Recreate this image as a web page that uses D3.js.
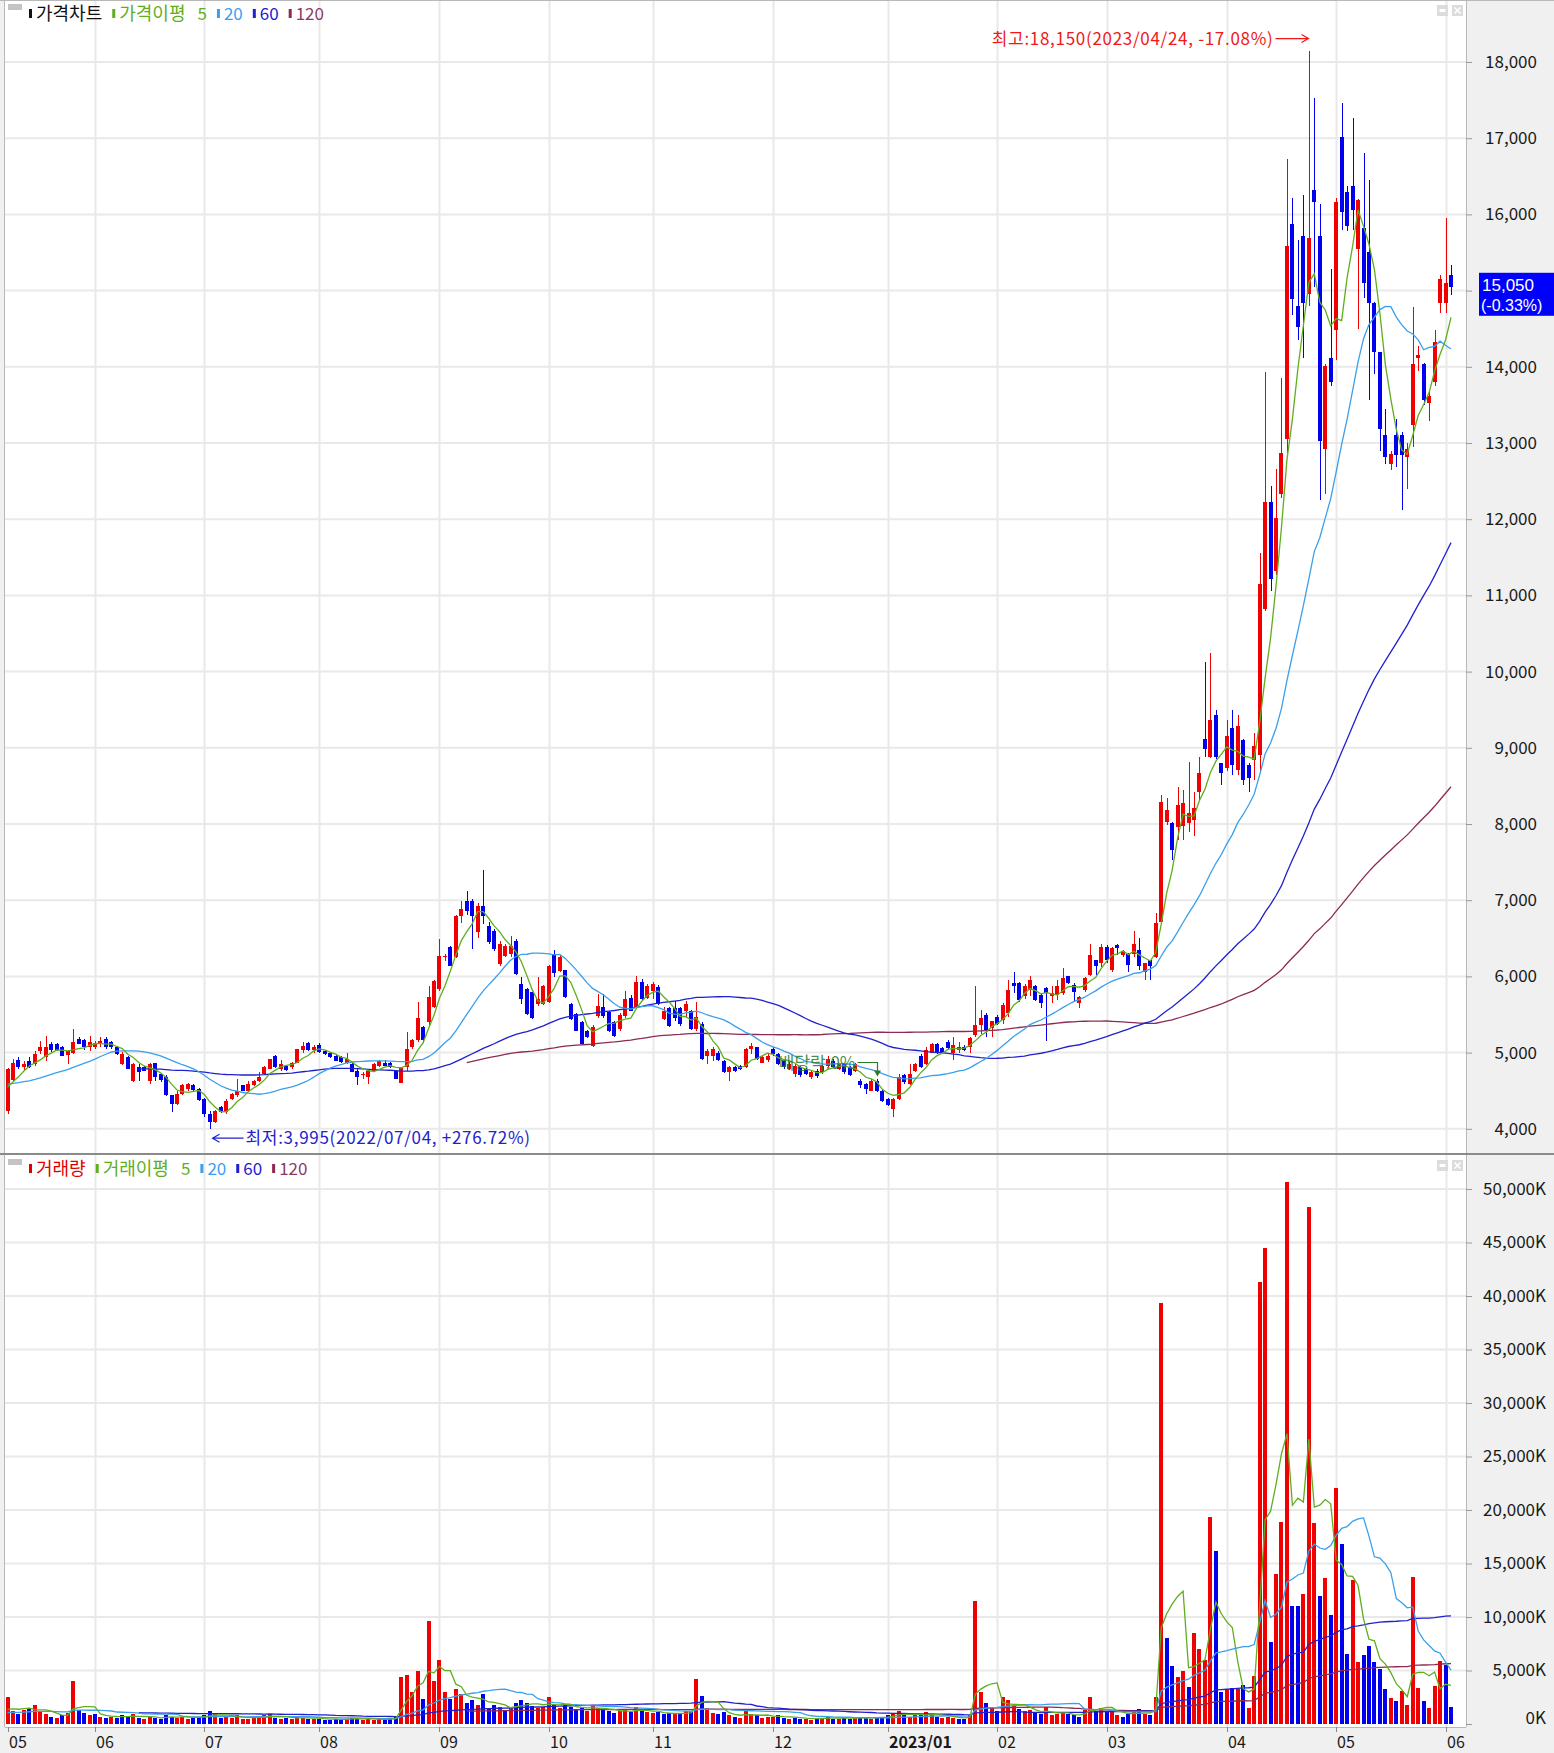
<!DOCTYPE html>
<html><head><meta charset="utf-8">
<script src="https://cdn.jsdelivr.net/npm/d3@7/dist/d3.min.js"></script>
<style>
html,body{margin:0;padding:0;background:#fff;}
svg{display:block;}
</style></head><body>
<svg id="chart" width="1554" height="1753"></svg>
<script>
// ---------------- DATA ----------------
const startDate = "2022-05-10";
const endDate = "2023-06-02";
const holidays = ["2022-06-01","2022-06-06","2022-08-15","2022-09-09","2022-09-12","2022-10-03","2022-10-10",
  "2022-12-30","2023-01-23","2023-01-24","2023-03-01","2023-05-01","2023-05-05","2023-05-29"];

// closes / volumes of the sessions before the visible window (used only for moving averages)
const prevCloses = [4800,4850,4780,4720,4760,4700,4650,4700,4750,4820,4760,4700,4680,4720,4650,4700,
  4620,4650,4600,4580,4620,4650,4600,4560,4600,4580,4620,4550,4580,4560,4600,4520,4480,4470,4480];
const prevVolumes = [1500,1200,1000,900,1300,1100,800,900,1000,1200,1400,900,800,700,900,1000,1100,800,
  700,900,1000,1200,900,800,1000,1300,1100,900,800,1000,1200,900,1100,1000,1300];

const openP = [
  4240,4635,4900,4810,4895,4850,5025,4940,5110,5110,5070,4975,5000,5180,5165,5070,
  5080,5110,5180,5135,5070,4850,4940,4630,4810,4810,4630,4860,4720,4680,4440,4330,4460,4520,4570,4520,
  4390,4195,4090,4280,4220,4390,4440,4570,4500,4570,4630,4720,4790,4960,4790,4820,4810,4870,5030,5120,5030,
  5105,5025,5000,4960,4940,4870,4850,4765,4700,4680,4765,4830,4870,4870,4765,4600,4810,5070,5160,5330,5400,5600,
  5830,6250,6380,6250,6790,6990,6990,6580,6930,6660,6600,6160,6270,6290,6470,5900,5830,5790,5640,5640,
  5660,6290,6070,6080,5640,5510,5400,5290,5090,5480,5600,5530,5400,5310,5480,5720,5590,5920,5720,
  5810,5860,5440,5590,5590,5590,5550,5550,5310,5380,4960,4960,5000,4890,4740,4810,4830,4810,5050,5070,4870,4900,
  5050,4980,4890,4790,4720,4810,4790,4680,4760,4740,4830,4890,4790,4850,4810,4760,4630,4590,4500,4630,4500,
  4390,4260,4390,4700,4590,4760,4960,4850,5000,5110,5060,5140,4990,5030,5080,5080,5230,5360,5490,5320,
  5470,5430,5520,5910,5910,5740,5820,5870,5760,5850,5740,5760,5780,6000,5890,5650,5820,6020,6220,6170,
  6390,6080,6410,6280,6300,6300,6350,6060,6210,6260,6720,8030,8010,7960,7970,8010,8050,8420,9120,8880,9430,8800,
  8730,9260,8710,9100,8780,8840,8900,10820,12220,11320,12330,13050,15870,14800,15720,14950,16320,15720,12920,14110,
  14480,17020,16300,16370,15540,15820,15510,14840,14190,13100,12720,13100,13100,12820,13230,14110,14040,13520,13800,14840,
  14840,15200];
const highP = [
  4800,4920,4940,4895,4940,5025,5155,5220,5140,5130,5090,5030,5310,5200,5180,5220,
  5150,5200,5200,5150,5090,5010,4960,4860,4850,4830,4870,4870,4730,4700,4450,4500,4590,4600,4590,4530,
  4400,4240,4250,4300,4390,4470,4660,4580,4630,4640,4740,4830,4920,4970,4900,4840,4880,5050,5140,5140,5100,
  5120,5040,5010,4975,4950,5000,4860,4780,4740,4780,4870,4900,4900,4880,4770,4810,5270,5180,5660,5350,5880,5950,
  6490,6300,6400,6800,6990,7120,7010,6960,7390,6710,6620,6470,6420,6530,6490,5990,5850,5800,5990,5890,
  6150,6340,6280,6090,5650,5520,5410,5300,5360,5770,5770,5540,5410,5520,5810,5750,6010,5970,5900,
  5920,5890,5600,5600,5680,5600,5680,5560,5660,5400,5050,5070,5020,4900,4830,4830,4840,5060,5130,5080,4960,4980,
  5070,5000,4900,4880,4850,4830,4800,4760,4780,4850,4950,4920,4860,4860,4830,4870,4650,4600,4650,4660,4510,
  4400,4400,4720,4720,4850,4870,4980,5070,5130,5130,5080,5160,5210,5140,5100,5200,5870,5560,5520,5420,
  5500,5650,5950,6060,5930,5900,6000,5890,5780,5860,5870,5950,6110,6010,5910,5740,5990,6430,6220,6430,
  6410,6390,6430,6340,6310,6590,6500,6180,6220,6830,8380,8340,8030,8490,8450,8820,8420,8880,10130,10240,9500,8800,
  9370,9500,9430,9120,8800,9190,11550,13930,12430,12660,13850,16730,16210,15670,16260,18150,17530,16130,14040,15280,
  16210,17460,16370,17270,16200,16800,16450,14850,14200,13440,12900,13310,13150,13000,14790,14270,14050,13700,14480,15200,
  15950,15330];
const lowP = [
  4190,4630,4790,4765,4800,4830,4980,4895,5010,5020,4950,4850,4980,5110,5030,5025,
  5050,5070,5050,5050,4970,4840,4780,4620,4630,4760,4590,4630,4620,4430,4220,4310,4440,4500,4500,4370,
  4150,3995,4070,4210,4200,4380,4420,4500,4480,4560,4610,4700,4780,4800,4760,4760,4790,4860,5000,5020,5000,
  5000,4970,4930,4890,4870,4850,4740,4570,4650,4590,4750,4810,4830,4800,4650,4600,4765,5050,5135,5130,5350,5580,
  5810,6200,6140,6240,6700,6800,6360,6500,6690,6420,6330,6140,6250,6250,6020,5640,5500,5440,5610,5620,
  5650,5990,6060,5720,5430,5280,5100,5190,5070,5460,5460,5270,5210,5290,5460,5540,5570,5690,5700,
  5700,5630,5430,5340,5420,5350,5460,5300,5290,4900,4850,4890,4890,4730,4630,4750,4770,4800,4980,4900,4860,4880,
  4960,4840,4780,4770,4680,4680,4700,4660,4670,4720,4810,4800,4770,4720,4690,4740,4540,4460,4490,4480,4350,
  4300,4150,4380,4590,4580,4740,4800,4840,4990,4980,5000,5050,4900,4990,5020,4990,5210,5250,5210,5210,
  5360,5380,5470,5780,5670,5700,5740,5680,5580,5150,5650,5690,5760,5900,5670,5580,5800,6000,6020,6120,
  6170,6060,6280,6260,6060,6260,6080,5950,5950,6240,6700,7990,7530,7790,7790,7900,7840,8320,8880,8860,8850,8510,
  8700,8640,8640,8510,8420,8580,8670,10800,11060,11270,12280,12870,14680,14350,14110,14800,15050,12250,12330,13750,
  14090,15800,15780,15800,14500,14900,13570,13900,12900,12720,12640,12690,12120,12400,12950,13950,13500,13290,13750,14710,
  14700,14940];
const closeP = [
  4780,4870,4810,4850,4815,4980,5070,5070,5030,5030,4960,5020,5135,5110,5080,5135,
  5120,5155,5070,5070,4985,4980,4790,4850,4740,4765,4850,4680,4635,4440,4330,4460,4570,4590,4510,4380,
  4200,4090,4240,4220,4370,4460,4500,4500,4590,4630,4680,4810,4920,4810,4850,4770,4870,5050,5090,5030,5070,
  5005,4985,4940,4895,4880,4915,4745,4680,4720,4765,4850,4885,4830,4810,4660,4810,5050,5160,5460,5160,5730,5940,
  6270,6270,6140,6790,6880,6860,6795,6920,6790,6450,6360,6420,6400,6400,6030,5700,5510,5460,5700,5880,
  6140,6050,6250,5730,5440,5290,5110,5200,5330,5610,5480,5290,5220,5500,5700,5550,5920,5700,5880,
  5900,5640,5550,5350,5460,5370,5640,5310,5470,4920,5020,5050,4900,4740,4810,4760,4790,5050,5090,4920,4940,4960,
  4980,4850,4810,4850,4830,4700,4720,4740,4690,4830,4920,4810,4850,4740,4700,4850,4570,4520,4630,4500,4370,
  4310,4390,4680,4610,4720,4850,4810,5030,5110,5000,5010,5060,5100,5080,5040,5190,5360,5450,5300,5410,
  5380,5630,5820,5870,5690,5870,5950,5690,5650,5780,5780,5870,5980,5910,5800,5730,5980,6280,6130,6390,
  6210,6370,6370,6330,6150,6430,6130,6170,6130,6700,8290,8180,7660,8250,8270,8140,8210,8670,8990,9370,8880,8670,
  9150,8780,9280,8580,8600,9020,11150,12220,11210,12020,12870,15590,14890,14520,14840,15690,16160,13030,14010,13800,
  16160,16030,15850,16060,16190,15100,14840,14190,13180,12820,12850,12840,12840,12920,14040,14160,13570,13620,14320,15150,
  15100,15050];
// volume, thousands of shares
const volumes = [
  2500,1200,900,1300,1500,1800,1100,900,700,600,800,1000,4000,1300,1000,800,
  900,700,600,700,600,800,700,900,600,500,700,600,500,800,700,600,700,500,600,700,
  800,1200,900,600,700,600,800,500,500,600,700,800,900,600,500,600,500,700,600,500,500,
  500,400,400,500,400,500,600,500,400,500,400,500,400,500,700,4400,4600,3000,5000,2300,9600,4000,
  6000,3000,2300,3300,2800,2000,2200,1800,2800,1500,1800,1600,1200,1500,2000,2200,2000,1700,1500,1600,
  2500,1800,1500,1800,1600,1400,1500,1200,1800,1500,1300,1200,1000,1200,1400,1100,1600,1200,1100,
  1000,1100,900,1000,900,1000,1200,1100,4200,2600,1500,1000,900,1100,800,700,600,1200,900,800,600,700,
  700,800,600,500,600,500,500,400,500,600,700,500,500,600,500,600,700,600,500,600,700,
  800,1000,1200,800,700,900,800,1100,900,700,600,700,600,500,500,800,11500,3000,2000,1500,
  1200,2500,2200,1800,1400,1200,1300,1000,900,1600,800,900,1000,900,800,700,1300,2500,1200,1500,
  1200,1300,800,700,900,1200,1400,900,800,2500,39300,8000,5400,4400,5000,3500,8500,7000,6000,19300,16200,3000,
  3200,3400,3300,3600,1500,4500,41350,44450,7660,13980,18870,50650,11020,11020,12150,48360,18800,11950,13600,10160,
  22080,16780,6570,13430,5840,6460,7300,5840,5110,3290,2450,2150,3100,1750,13760,3390,2150,1460,3540,5910,
  5510,1610];

const priceTicks = [4000,5000,6000,7000,8000,9000,10000,11000,12000,13000,14000,15000,16000,17000,18000];
const volumeTicks = [0,5000,10000,15000,20000,25000,30000,35000,40000,45000,50000];
const maPeriods = [5,20,60,120];
const dividendEvents = [{date:"2022-12-28", label:"배당락:0%"}];

// ---------------- SETUP ----------------
const FONT = '"Noto Sans CJK KR","Noto Sans",sans-serif';
const W = 1554, H = 1753;
const plotL = 5, plotR = 1466;
const pTop = 1, pBot = 1153, vTop = 1155, vBot = 1727;
const C_UP = "#f00000", C_DN = "#0000ee";
const maColors = {5:"#5fae1e", 20:"#3a9fec", 60:"#2020d0", 120:"#8b2a55"};

function tradingDays(s, e, hol) {
  const hs = new Set(hol), out = [];
  const d = new Date(s + "T00:00:00Z"), end = new Date(e + "T00:00:00Z");
  while (d <= end) {
    const wd = d.getUTCDay(), str = d.toISOString().slice(0,10);
    if (wd !== 0 && wd !== 6 && !hs.has(str)) out.push(str);
    d.setUTCDate(d.getUTCDate() + 1);
  }
  return out;
}
const allDates = tradingDays(startDate, endDate, holidays);
const n = Math.min(allDates.length, openP.length, highP.length, lowP.length, closeP.length, volumes.length);
const dates = allDates.slice(0, n);
const bars = d3.range(n).map(i => ({i, date: dates[i], o: openP[i], h: highP[i], l: lowP[i], c: closeP[i], v: volumes[i]}));

const fullC = prevCloses.concat(closeP.slice(0, n));
const fullV = prevVolumes.concat(volumes.slice(0, n));
const off = prevCloses.length;
function movingAvg(arr, p) {
  return d3.range(n).map(i => {
    const e = i + off; if (e - p + 1 < 0) return null;
    return d3.mean(arr.slice(e - p + 1, e + 1));
  });
}

const x = d3.scalePoint().domain(dates).range([7.5, 1451]);
const yP = d3.scaleLinear().domain([4000, 18000]).range([1128.8, 62]);
const yV = d3.scaleLinear().domain([0, 50000]).range([1724, 1189]);

const svg = d3.select("#chart").attr("font-family", FONT);
svg.append("rect").attr("width", W).attr("height", H).attr("fill", "#f0f0f0");
svg.append("rect").attr("x", plotL).attr("y", pTop).attr("width", plotR - plotL).attr("height", pBot - pTop).attr("fill", "#fff");
svg.append("rect").attr("x", plotL).attr("y", vTop).attr("width", plotR - plotL).attr("height", vBot - vTop).attr("fill", "#fff");

const defs = svg.append("defs");
defs.append("clipPath").attr("id", "clipP").append("rect").attr("x", plotL).attr("y", pTop).attr("width", plotR - plotL).attr("height", pBot - pTop);
defs.append("clipPath").attr("id", "clipV").append("rect").attr("x", plotL).attr("y", vTop).attr("width", plotR - plotL).attr("height", vBot - vTop);

// month boundaries
const monthStarts = bars.filter(b => b.i > 0 && b.date.slice(0,7) !== dates[b.i-1].slice(0,7));
const grid = svg.append("g").attr("stroke", "#e9e9e9").attr("stroke-width", 2);
priceTicks.forEach(t => grid.append("line").attr("x1", plotL).attr("x2", plotR).attr("y1", yP(t)).attr("y2", yP(t)));
volumeTicks.filter(t => t > 0).forEach(t => grid.append("line").attr("x1", plotL).attr("x2", plotR).attr("y1", yV(t)).attr("y2", yV(t)));
monthStarts.forEach(b => {
  const xx = Math.round(x(b.date)) + 0.5;
  grid.append("line").attr("x1", xx).attr("x2", xx).attr("y1", pTop).attr("y2", pBot);
  grid.append("line").attr("x1", xx).attr("x2", xx).attr("y1", vTop).attr("y2", vBot);
});

// frame lines
const frame = svg.append("g").attr("stroke", "#b8b8b8").attr("stroke-width", 1).attr("shape-rendering", "crispEdges");
frame.append("line").attr("x1", plotR + 0.5).attr("x2", plotR + 0.5).attr("y1", 0).attr("y2", vBot);
frame.append("line").attr("x1", plotL - 0.5).attr("x2", plotL - 0.5).attr("y1", 0).attr("y2", vBot);
frame.append("line").attr("x1", 0).attr("x2", W).attr("y1", 0.5).attr("y2", 0.5);
frame.append("line").attr("x1", plotL).attr("x2", plotR).attr("y1", vBot + 0.5).attr("y2", vBot + 0.5);
svg.append("rect").attr("x", 0).attr("y", pBot).attr("width", W).attr("height", 2).attr("fill", "#8a8a8a");

// candles
const gC = svg.append("g").attr("clip-path", "url(#clipP)").attr("shape-rendering", "crispEdges");
bars.forEach(b => {
  const col = b.c >= b.o ? C_UP : C_DN;
  const xc = Math.round(x(b.date));
  gC.append("rect").attr("x", xc).attr("width", 1)
    .attr("y", yP(Math.max(b.h, b.o, b.c))).attr("height", Math.max(1, yP(Math.min(b.l, b.o, b.c)) - yP(Math.max(b.h, b.o, b.c))))
    .attr("fill", col);
  const top = yP(Math.max(b.o, b.c)), bot = yP(Math.min(b.o, b.c));
  gC.append("rect").attr("x", xc - 2).attr("width", 4).attr("y", top).attr("height", Math.max(1.2, bot - top)).attr("fill", col);
});

// price MAs
const gM = svg.append("g").attr("clip-path", "url(#clipP)");
maPeriods.slice().reverse().forEach(p => {
  const ma = movingAvg(fullC, p);
  const line = d3.line().defined(i => ma[i] != null).x(i => x(dates[i])).y(i => yP(ma[i]));
  gM.append("path").attr("d", line(d3.range(n))).attr("fill", "none").attr("stroke", maColors[p]).attr("stroke-width", 1.3);
});

// dividend annotation
const ann = svg.append("g");
dividendEvents.forEach(ev => {
  const b = bars.find(d => d.date === ev.date); if (!b) return;
  const xd = Math.round(x(b.date)) + 0.5, yh = yP(b.h), yb = yh - 16;
  ann.append("text").attr("x", xd - 22).attr("y", yb + 1).attr("dy", "0.35em").attr("text-anchor", "end")
    .attr("font-size", 17).attr("fill", "#2a7a2a").attr("fill-opacity", 0.85).text(ev.label);
  ann.append("path").attr("d", `M${xd-20},${yb}H${xd}V${yh-7}`).attr("fill", "none").attr("stroke", "#2a7a2a").attr("stroke-width", 1.2);
  ann.append("path").attr("d", `M${xd-3.5},${yh-8}L${xd+3.5},${yh-8}L${xd},${yh-2}Z`).attr("fill", "#2a7a2a");
});

// volume bars
const gVb = svg.append("g").attr("clip-path", "url(#clipV)").attr("shape-rendering", "crispEdges");
bars.forEach(b => {
  const prev = fullC[b.i + off - 1];
  const col = b.c >= prev ? C_UP : C_DN;
  const xc = Math.round(x(b.date));
  gVb.append("rect").attr("x", xc - 2).attr("width", 4).attr("y", yV(b.v)).attr("height", yV(0) - yV(b.v)).attr("fill", col);
});
const gVm = svg.append("g").attr("clip-path", "url(#clipV)");
maPeriods.slice().reverse().forEach(p => {
  const ma = movingAvg(fullV, p);
  const line = d3.line().defined(i => ma[i] != null).x(i => x(dates[i])).y(i => yV(ma[i]));
  gVm.append("path").attr("d", line(d3.range(n))).attr("fill", "none").attr("stroke", maColors[p]).attr("stroke-width", 1.3);
});

// high / low annotations
const last = bars[n-1], prevLast = bars[n-2];
const hiBar = bars.reduce((a, b) => b.h > a.h ? b : a), loBar = bars.reduce((a, b) => b.l < a.l ? b : a);
const fmt = d3.format(",");
const pct = v => { const p = (last.c - v) / v * 100; return (p >= 0 ? "+" : "") + p.toFixed(2) + "%"; };
{
  const xh = Math.round(x(hiBar.date)) + 0.5, ya = yP(hiBar.h) - 12;
  ann.append("text").attr("x", xh - 36).attr("y", ya).attr("dy", "0.35em").attr("text-anchor", "end")
    .attr("font-size", 17).attr("letter-spacing", 0.7).attr("fill", "#f01818")
    .text(`최고:${fmt(hiBar.h)}(${hiBar.date.replace(/-/g, "/")}, ${pct(hiBar.h)})`);
  ann.append("path").attr("d", `M${xh-34},${ya}H${xh-1}M${xh-8},${ya-4}L${xh-1},${ya}L${xh-8},${ya+4}`)
    .attr("fill", "none").attr("stroke", "#f01818").attr("stroke-width", 1.2);
  const xl = Math.round(x(loBar.date)) + 0.5, yb = yP(loBar.l) + 9;
  ann.append("text").attr("x", xl + 35).attr("y", yb).attr("dy", "0.35em").attr("text-anchor", "start")
    .attr("font-size", 17).attr("letter-spacing", 0.7).attr("fill", "#2222cc")
    .text(`최저:${fmt(loBar.l)}(${loBar.date.replace(/-/g, "/")}, ${pct(loBar.l)})`);
  ann.append("path").attr("d", `M${xl+33},${yb}H${xl+2}M${xl+9},${yb-4}L${xl+2},${yb}L${xl+9},${yb+4}`)
    .attr("fill", "none").attr("stroke", "#2222cc").attr("stroke-width", 1.2);
}

// axes
const yc = yP(last.c), boxTop = yc - 14, boxBot = yc + 29;
const axP = svg.append("g").attr("transform", `translate(${plotR},0)`)
  .call(d3.axisRight(yP).tickValues(priceTicks).tickSize(6).tickFormat(fmt));
axP.select(".domain").remove();
axP.attr("font-family", FONT).attr("font-size", 17);
axP.selectAll("line").attr("stroke", "#9a9a9a");
axP.selectAll("text").attr("x", 71).attr("text-anchor", "end").attr("fill", "#1a1a1a");
// labels hidden behind the current-price box
axP.selectAll(".tick").filter(t => yP(t) > boxTop - 8 && yP(t) < boxBot + 8).select("text").remove();

const axV = svg.append("g").attr("transform", `translate(${plotR},0)`)
  .call(d3.axisRight(yV).tickValues(volumeTicks).tickSize(6).tickFormat(v => fmt(v) + "K"));
axV.select(".domain").remove();
axV.attr("font-family", FONT).attr("font-size", 17);
axV.selectAll("line").attr("stroke", "#9a9a9a");
axV.selectAll("text").attr("x", 80).attr("text-anchor", "end").attr("fill", "#1a1a1a")
  .attr("y", v => v === 0 ? -6 : 0);

// current price box
{
  const chg = (last.c - prevLast.c) / prevLast.c * 100;
  svg.append("rect").attr("x", 1479).attr("y", boxTop).attr("width", 75).attr("height", boxBot - boxTop).attr("fill", "#0000ff");
  const bf = '"Liberation Sans","DejaVu Sans",sans-serif';
  svg.append("text").attr("x", 1482).attr("y", yc - 2).attr("dy", "0.35em").attr("font-family", bf).attr("font-size", 17).attr("fill", "#fff").text(fmt(last.c));
  svg.append("text").attr("x", 1481).attr("y", yc + 19).attr("dy", "0.35em").attr("font-family", bf).attr("font-size", 16).attr("fill", "#fff")
    .text(`(${chg.toFixed(2)}%)`);
}

// x axis labels
const xlab = svg.append("g").attr("font-size", 16).attr("fill", "#1a1a1a");
const labelBars = [bars[0]].concat(monthStarts);
labelBars.forEach(b => {
  const m = b.date.slice(5,7), isJan = m === "01";
  const xx = Math.round(x(b.date));
  xlab.append("line").attr("x1", xx + 0.5).attr("x2", xx + 0.5).attr("y1", vBot).attr("y2", vBot + 5).attr("stroke", "#888");
  xlab.append("text").attr("x", xx + 1).attr("y", 1742).attr("dy", "0.35em")
    .attr("font-weight", isJan ? "bold" : "normal").text(isJan ? b.date.slice(0,4) + "/01" : m);
});

// legends
function legend(y0, items) {
  const g = svg.append("g");
  g.append("rect").attr("x", 8).attr("y", y0 - 10).attr("width", 14).attr("height", 6).attr("fill", "#c4c4c4");
  let cx = 29;
  items.forEach(it => {
    g.append("rect").attr("x", cx).attr("y", y0 - 5).attr("width", 3).attr("height", 9).attr("fill", it.bar);
    let tx = cx + 7;
    it.parts.forEach((p, k) => {
      const t = g.append("text").attr("x", tx).attr("y", y0).attr("dy", "0.35em")
        .attr("font-size", /^[0-9]+$/.test(p) ? 17 : 18).attr("fill", it.color).text(p);
      tx += t.node().getComputedTextLength() + (k < it.parts.length - 1 ? 12 : 0);
    });
    cx = tx + 10;
  });
}
legend(14, [
  {bar:"#111", color:"#111", parts:["가격차트"]},
  {bar:maColors[5], color:maColors[5], parts:["가격이평", "5"]},
  {bar:maColors[20], color:maColors[20], parts:["20"]},
  {bar:maColors[60], color:maColors[60], parts:["60"]},
  {bar:maColors[120], color:"#8b3a66", parts:["120"]}]);
legend(1169, [
  {bar:"#e00000", color:"#e00000", parts:["거래량"]},
  {bar:maColors[5], color:maColors[5], parts:["거래이평", "5"]},
  {bar:maColors[20], color:maColors[20], parts:["20"]},
  {bar:maColors[60], color:maColors[60], parts:["60"]},
  {bar:maColors[120], color:"#8b3a66", parts:["120"]}]);

// window icons
function icons(y0) {
  const g = svg.append("g");
  g.append("rect").attr("x", 1437).attr("y", y0).attr("width", 11).attr("height", 11).attr("fill", "#dcdcdc");
  g.append("rect").attr("x", 1439.5).attr("y", y0 + 4).attr("width", 6).attr("height", 3).attr("fill", "#fff");
  g.append("rect").attr("x", 1452).attr("y", y0).attr("width", 11).attr("height", 11).attr("fill", "#dcdcdc");
  g.append("path").attr("d", `M${1454.5},${y0+2.5}L${1460.5},${y0+8.5}M${1460.5},${y0+2.5}L${1454.5},${y0+8.5}`)
    .attr("stroke", "#fff").attr("stroke-width", 1.5);
}
icons(5); icons(1160);
</script>
</body></html>
